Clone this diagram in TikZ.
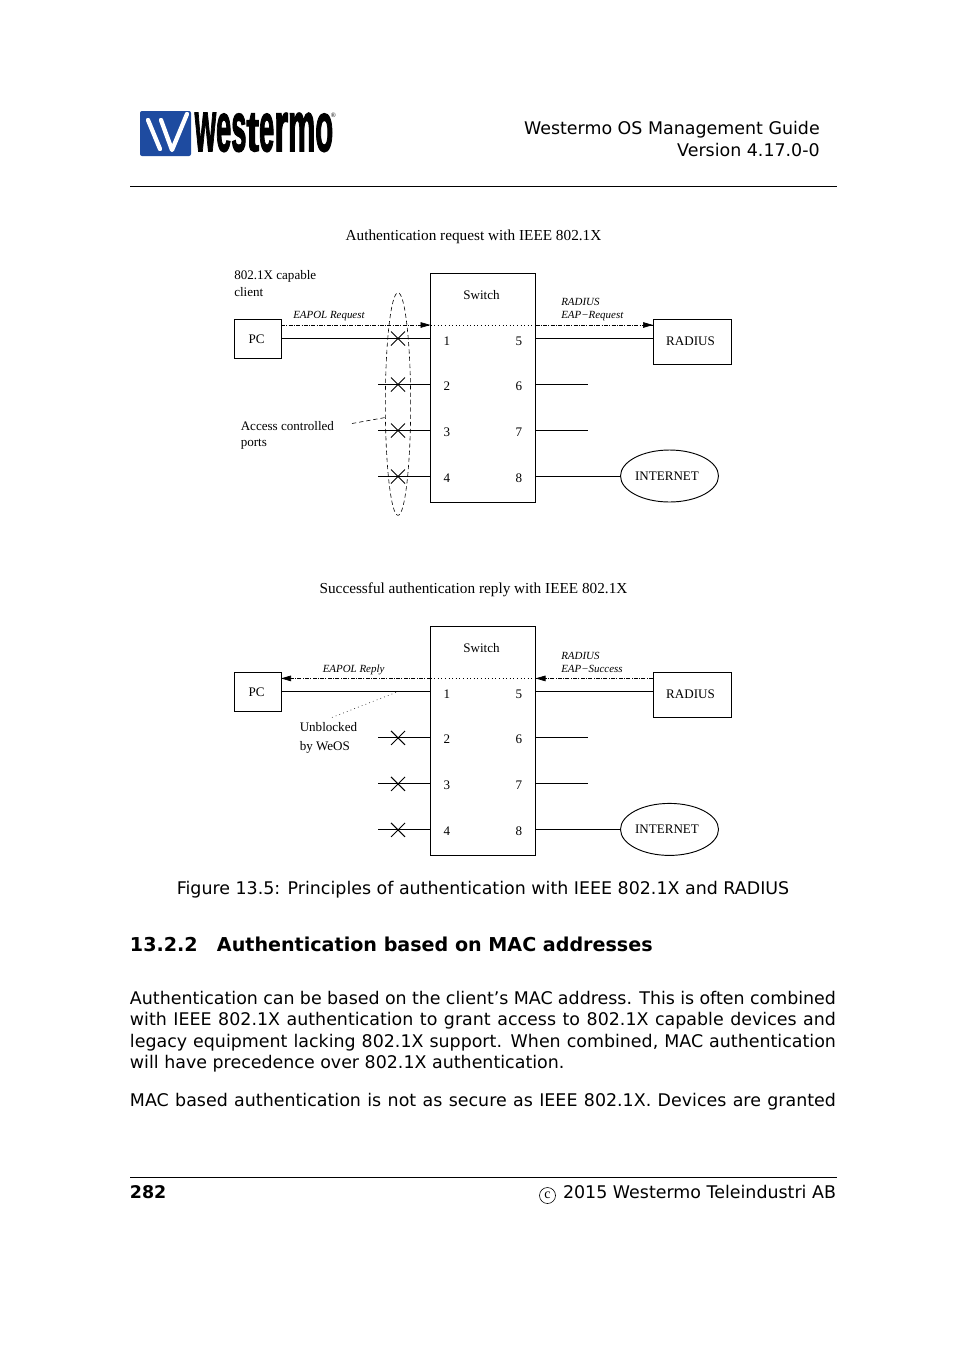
\documentclass[tikz,border=0pt]{standalone}
\usepackage{fontspec}
\setmainfont{DejaVu Sans}
\newfontfamily\tms{Liberation Serif}
\newfontfamily\hvy[UprightFont=* Bold,FakeBold=2.5]{Liberation Sans}
\usetikzlibrary{arrows.meta,shapes.geometric}
\definecolor{wblue}{RGB}{30,75,160}
\tikzset{
  x=0.75pt,y=-0.75pt,
  box/.style={draw,line width=0.7pt,inner sep=0,outer sep=0,anchor=north west},
  dtext/.style={font=\tms\fontsize{9.8pt}{11pt}\selectfont,inner sep=0,anchor=base west},
  dnum/.style={font=\tms\fontsize{9.8pt}{11pt}\selectfont,inner sep=0,anchor=base},
  dsmall/.style={font=\tms\itshape\fontsize{8.2pt}{9pt}\selectfont,inner sep=0,anchor=base west},
  dtitle/.style={font=\tms\fontsize{11.45pt}{13pt}\selectfont,inner sep=0,anchor=base},
  wire/.style={line width=0.8pt},
  cross/.style={line width=0.7pt},
  signal/.style={line width=0.7pt,dash pattern=on 3pt off 1pt on 0.7pt off 1pt},
  insw/.style={line width=0.7pt,dash pattern=on 0.7pt off 2pt},
  tip/.style={-{Stealth[length=7.5pt,width=4.2pt,inset=0pt]}},
  page/.style={font=\fontsize{13.08pt}{15pt}\selectfont,inner sep=0},
  bodyline/.style={page,anchor=base west},
}
\newcommand{\bline}[1]{\makebox[529.5pt][s]{#1}}
\newcommand{\lglyph}[2]{\resizebox*{#1pt}{28.5pt}{\hvy #2}}
\newcommand{\switchpart}{%
  \node[box,minimum width=78.75pt,minimum height=171.75pt] (sw) at (430.5,273.5) {};
  \node[dnum] (swl) at (481.5,299) {Switch};
  \node[box,minimum width=34.9pt,minimum height=29.25pt] (pc) at (234.5,319.5) {};
  \node[dnum] (pcl) at (256.5,343) {PC};
  \node[box,minimum width=58.5pt,minimum height=33.75pt] (rad) at (653.5,319.5) {};
  \node[dnum] (radl) at (690.5,345) {RADIUS};
  \node[draw,ellipse,line width=0.7pt,inner sep=0,outer sep=0,minimum width=73.5pt,minimum height=39pt] (net) at (669.5,476) {};
  \node[dnum] (netl) at (667,480) {INTERNET};
  \foreach \n/\ya/\yb in {1/338.5/345,2/384.5/390,3/430.5/436,4/476.5/482}{
    \coordinate (s\n) at (430.5,\ya);
    \coordinate (t\n) at (535.5,\ya);
    \pgfmathtruncatemacro{\m}{\n+4}
    \node[dnum] (n\n) at (447,\yb) {\n};
    \node[dnum] (n\m) at (519,\yb) {\m};
  }
  \coordinate (pcw) at (281,338.5);
  \coordinate (radw) at (653.5,338.5);
  \coordinate (f2) at (378,384.5);
  \coordinate (f3) at (378,430.5);
  \coordinate (f4) at (378,476.5);
  \coordinate (g2) at (588,384.5);
  \coordinate (g3) at (588,430.5);
  \coordinate (s-dot) at (430.5,325);
  \coordinate (t-dot) at (535.5,325);
  \coordinate (pc-dot) at (281,325);
  \coordinate (rad-dot) at (653,325);
  \draw[wire] (pcw) -- (s1);
  \draw[wire] (f2) -- (s2);
  \draw[wire] (f3) -- (s3);
  \draw[wire] (f4) -- (s4);
  \draw[wire] (t1) -- (radw);
  \draw[wire] (t2) -- (g2);
  \draw[wire] (t3) -- (g3);
  \draw[wire] (t4) -- (t4 -| net.west);
  \draw[insw] (s-dot) -- (t-dot);
  \foreach \yy in {384.5,430.5,476.5}{
    \draw[cross] (391,\yy-7) -- (405,\yy+7);
    \draw[cross] (391,\yy+7) -- (405,\yy-7);
  }
}
\begin{document}
\begin{tikzpicture}
\useasboundingbox (0,0) rectangle (954,1350);
\fill[white] (0,0) rectangle (954,1350);
% logo
\fill[wblue,rounded corners=1.5pt] (140,111) rectangle (191,156);
\draw[white,line width=3.2pt,line cap=round] (148,120) -- (160,149);
\draw[white,line width=3.2pt,line cap=round,line join=round] (161,120) -- (172,150) -- (187,114);
\node[inner sep=0,anchor=south west] (logo) at (194.5,152) {\lglyph{16}{w}\lglyph{11.4}{e}\lglyph{11.4}{s}\lglyph{9.4}{t}\lglyph{11.4}{e}\lglyph{10.4}{r}\lglyph{20.4}{m}\lglyph{13.4}{o}};
\node[inner sep=0,font=\tms\fontsize{5pt}{6pt}\selectfont] (reg) at (333.5,115) {®};
% header
\node[page,anchor=base east] (h1) at (820,134) {Westermo OS Management Guide};
\node[page,anchor=base east] (h2) at (820,156) {Version 4.17.0-0};
\draw[line width=0.6pt] (130,186.5) -- (837,186.5);
% diagram 1
\node[dtitle] (t1) at (473.5,240) {Authentication request with IEEE 802.1X};
\begin{scope}[name prefix=a-]
\switchpart
\draw[signal] (pc-dot) -- (s-dot);
\draw[tip,line width=0.5pt] (420,325) -- (s-dot);
\draw[signal] (t-dot) -- (rad-dot);
\draw[tip,line width=0.5pt] (643,325) -- (rad-dot);
\draw[cross] (391,331.5) -- (405,345.5);
\draw[cross] (391,345.5) -- (405,331.5);
\node[draw,ellipse,line width=0.45pt,inner sep=0,outer sep=0,minimum width=19pt,minimum height=167pt,dash pattern=on 3.2pt off 2.2pt] (acl) at (398,404) {};
\node[dtext] (c1) at (234,279) {802.1X capable};
\node[dtext] (c2) at (234,296) {client};
\node[dsmall] (eapol) at (293,318) {EAPOL Request};
\node[dsmall] (r1) at (561,305) {RADIUS};
\node[dsmall] (r2) at (561,318) {EAP−Request};
\node[dtext] (ac1) at (240.5,430) {Access controlled};
\node[dtext] (ac2) at (240.5,446) {ports};
\coordinate (acf) at (352,423.5);
\draw[line width=0.45pt,dash pattern=on 3.2pt off 2.2pt] (acf) -- (acl.west |- 0,417.5);
\end{scope}
% diagram 2
\node[dtitle] (t2) at (473.5,593) {Successful authentication reply with IEEE 802.1X};
\begin{scope}[shift={(0,353.4)},name prefix=b-]
\switchpart
\draw[signal] (s-dot) -- (pc-dot);
\draw[tip,line width=0.5pt] (291,325) -- (pc-dot);
\draw[signal] (rad-dot) -- (t-dot);
\draw[tip,line width=0.5pt] (545,325) -- (t-dot);
\node[dsmall] (eapol) at (322.5,319) {EAPOL Reply};
\node[dsmall] (r1) at (561,306) {RADIUS};
\node[dsmall] (r2) at (561,319) {EAP−Success};
\node[dtext] (u1) at (299.5,378) {Unblocked};
\node[dtext] (u2) at (299.5,397) {by WeOS};
\coordinate (uf) at (396,339);
\coordinate (ug) at (332,364);
\draw[line width=0.4pt,dash pattern=on 0.6pt off 2.4pt] (uf) -- (ug);
\end{scope}
% caption and text
\node[page,anchor=base] (cap) at (483,894) {Figure 13.5: Principles of authentication with IEEE 802.1X and RADIUS};
\node[bodyline,font=\bfseries\fontsize{14.34pt}{17pt}\selectfont] (sn) at (129.7,951) {13.2.2};
\node[bodyline,font=\bfseries\fontsize{14.34pt}{17pt}\selectfont] (st) at (216.7,951) {Authentication based on MAC addresses};
\node[bodyline] (b1) at (129.7,1004.3) {\bline{Authentication can be based on the client’s MAC address. This is often combined}};
\node[bodyline] (b2) at (129.7,1025.8) {\bline{with IEEE 802.1X authentication to grant access to 802.1X capable devices and}};
\node[bodyline] (b3) at (129.7,1047.3) {\bline{legacy equipment lacking 802.1X support. When combined, MAC authentication}};
\node[bodyline] (b4) at (129.7,1068.8) {will have precedence over 802.1X authentication.};
\node[bodyline] (b5) at (129.7,1106.3) {\bline{MAC based authentication is not as secure as IEEE 802.1X. Devices are granted}};
% footer
\draw[line width=0.6pt] (130,1177.5) -- (837,1177.5);
\node[bodyline,font=\bfseries\fontsize{13.08pt}{15pt}\selectfont] (pg) at (129.7,1198.7) {282};
\node[page,anchor=base east] (copy) at (836.3,1198.7) {2015 Westermo Teleindustri AB};
\node[draw,circle,line width=0.45pt,inner sep=0,minimum size=12pt,font=\tms\fontsize{10.5pt}{10pt}\selectfont] (cc) at (547.5,1195.5) {c};
\end{tikzpicture}
\end{document}
